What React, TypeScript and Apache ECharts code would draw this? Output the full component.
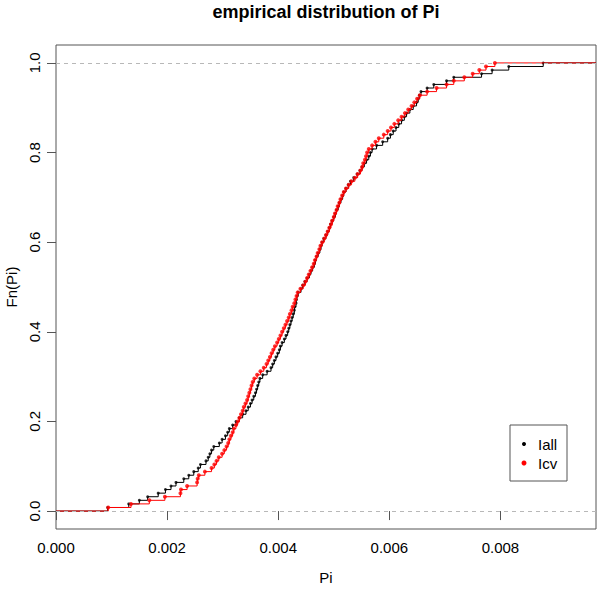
import React, { useEffect, useRef } from "react";
import * as echarts from "echarts";

// sorted sample values (empirical CDF knots)
const iallValues: number[] = [
  0.00093, 0.00131, 0.0015, 0.00165, 0.00184, 0.00197, 0.00207, 0.00216, 0.0023, 0.00239,
  0.00248, 0.00256, 0.0026, 0.0027, 0.00274, 0.00277, 0.0028, 0.00284, 0.00294, 0.00299,
  0.00305, 0.00309, 0.00312, 0.00318, 0.00324, 0.0033, 0.00336, 0.00342, 0.00346, 0.0035,
  0.00353, 0.00356, 0.00359, 0.00361, 0.00363, 0.00365, 0.00367, 0.00372, 0.0038, 0.00387,
  0.0039, 0.00393, 0.00396, 0.00399, 0.00402, 0.00404, 0.00407, 0.00411, 0.00414, 0.00417,
  0.00419, 0.00421, 0.00423, 0.00425, 0.00427, 0.00429, 0.0043, 0.00432, 0.00433, 0.00434,
  0.00436, 0.00441, 0.00444, 0.00448, 0.00452, 0.00456, 0.00459, 0.00462, 0.00465, 0.00467,
  0.00469, 0.00472, 0.00475, 0.00477, 0.00479, 0.00482, 0.00486, 0.00489, 0.00492, 0.00494,
  0.00497, 0.005, 0.00503, 0.00505, 0.00508, 0.0051, 0.00513, 0.00516, 0.00518, 0.00522,
  0.00526, 0.0053, 0.00536, 0.00542, 0.00547, 0.00551, 0.00555, 0.00559, 0.00563, 0.00566,
  0.00569, 0.00577, 0.00588, 0.00597, 0.00602, 0.00607, 0.00612, 0.00617, 0.00622, 0.00627,
  0.00631, 0.00637, 0.00643, 0.00649, 0.00652, 0.00654, 0.00657, 0.00668, 0.0068, 0.00703,
  0.00716, 0.00766, 0.00785, 0.00815, 0.00877,
];

const icvValues: number[] = [
  0.00094, 0.00135, 0.00168, 0.00196, 0.00224, 0.00225, 0.00236, 0.00254, 0.00255, 0.00257,
  0.00268, 0.0028, 0.00285, 0.00289, 0.00293, 0.00299, 0.00303, 0.00307, 0.0031, 0.00312,
  0.00315, 0.00318, 0.0032, 0.00324, 0.00327, 0.0033, 0.00333, 0.00336, 0.00338, 0.00341,
  0.00344, 0.00346, 0.00348, 0.0035, 0.00352, 0.00354, 0.00357, 0.00362, 0.00368, 0.00374,
  0.00379, 0.00382, 0.00385, 0.00388, 0.00391, 0.00394, 0.00398, 0.00401, 0.00404, 0.00407,
  0.0041, 0.00413, 0.00416, 0.00419, 0.00421, 0.00424, 0.00426, 0.00429, 0.00431, 0.00433,
  0.00435, 0.0044, 0.00445, 0.00449, 0.00452, 0.00455, 0.00458, 0.00461, 0.00464, 0.00466,
  0.00469, 0.00471, 0.00474, 0.00476, 0.00479, 0.00483, 0.00486, 0.00489, 0.00492, 0.00495,
  0.00497, 0.005, 0.00502, 0.00505, 0.00507, 0.0051, 0.00512, 0.00515, 0.00518, 0.00522,
  0.00527, 0.00532, 0.00538, 0.00543, 0.00548, 0.00551, 0.00553, 0.00556, 0.00558, 0.0056,
  0.00563, 0.00569, 0.00575, 0.00581, 0.0059, 0.00597, 0.00603, 0.00609, 0.00616, 0.00622,
  0.00628, 0.00634, 0.0064, 0.00645, 0.0065, 0.00655, 0.00668, 0.00685, 0.00703, 0.00716,
  0.00735, 0.0075, 0.00762, 0.00774, 0.0079,
];

const xTicks: number[] = [0, 0.002, 0.004, 0.006, 0.008];
const yTicks: number[] = [0, 0.2, 0.4, 0.6, 0.8, 1.0];
const seriesNames: string[] = ["Iall", "Icv"];

const X_MIN = 0;
const X_MAX = 0.00972;
const Y_MIN = -0.04;
const Y_MAX = 1.04;
const FONT = "'Liberation Sans', Arial, sans-serif";

function ecdfPoints(values: number[]): number[][] {
  const n = values.length;
  return values.map((v, i) => [v, (i + 1) / n]);
}

function ecdfStep(values: number[]): number[][] {
  return [[X_MIN, 0], ...ecdfPoints(values), [X_MAX, 1]];
}

export default function App() {
  const ref = useRef<HTMLDivElement>(null);
  useEffect(() => {
    document.body.style.margin = "0";
    if (!ref.current) return;
    const chart = echarts.init(ref.current, undefined, { renderer: "svg" });
    const axisColor = "#555";
    chart.setOption({
      animation: false,
      backgroundColor: "#fff",
      grid: {
        left: 56,
        right: 4,
        top: 45,
        bottom: 66,
        show: true,
        borderColor: axisColor,
        borderWidth: 1,
        backgroundColor: "transparent",
      },
      xAxis: {
        type: "value",
        min: X_MIN,
        max: X_MAX,
        axisLine: { show: false },
        splitLine: { show: false },
        axisTick: {
          show: true,
          length: 9,
          customValues: xTicks,
          lineStyle: { color: axisColor },
        },
        axisLabel: {
          customValues: xTicks,
          margin: 11,
          fontSize: 15,
          fontFamily: FONT,
          color: "#000",
          formatter: (v: number) => v.toFixed(3),
        },
      },
      yAxis: {
        type: "value",
        min: Y_MIN,
        max: Y_MAX,
        axisLine: { show: false },
        splitLine: { show: false },
        axisTick: {
          show: true,
          length: 9,
          customValues: yTicks,
          lineStyle: { color: axisColor },
        },
        axisLabel: {
          customValues: yTicks,
          rotate: 90,
          margin: 14,
          fontSize: 15,
          fontFamily: FONT,
          color: "#000",
          formatter: (v: number) => v.toFixed(1),
        },
      },
      series: [
        {
          name: seriesNames[0] + " step",
          type: "line",
          step: "end",
          data: ecdfStep(iallValues),
          showSymbol: false,
          lineStyle: { color: "#000", width: 1 },
          z: 2,
          markLine: {
            silent: true,
            symbol: "none",
            label: { show: false },
            lineStyle: { color: "#b8b8b8", type: [4, 4], width: 1 },
            data: [{ yAxis: 0 }, { yAxis: 1 }],
          },
        },
        {
          name: seriesNames[0],
          type: "scatter",
          data: ecdfPoints(iallValues),
          symbol: "circle",
          symbolSize: 3,
          itemStyle: { color: "#000" },
          z: 3,
        },
        {
          name: seriesNames[1] + " step",
          type: "line",
          step: "end",
          data: ecdfStep(icvValues),
          showSymbol: false,
          lineStyle: { color: "#ff0000", width: 1 },
          z: 4,
        },
        {
          name: seriesNames[1],
          type: "scatter",
          data: ecdfPoints(icvValues),
          symbol: "circle",
          symbolSize: 4,
          itemStyle: { color: "#ff0000" },
          z: 5,
        },
      ],
      graphic: [
        {
          type: "text",
          x: 326,
          y: 12,
          style: {
            text: "empirical distribution of Pi",
            fontSize: 18,
            fontWeight: "bold",
            fontFamily: FONT,
            fill: "#000",
            align: "center",
            verticalAlign: "middle",
          },
        },
        {
          type: "text",
          x: 326,
          y: 577,
          style: {
            text: "Pi",
            fontSize: 15,
            fontFamily: FONT,
            fill: "#000",
            align: "center",
            verticalAlign: "middle",
          },
        },
        {
          type: "text",
          x: 11,
          y: 287,
          rotation: Math.PI / 2,
          style: {
            text: "Fn(Pi)",
            fontSize: 15,
            fontFamily: FONT,
            fill: "#000",
            align: "center",
            verticalAlign: "middle",
          },
        },
        {
          type: "rect",
          shape: { x: 510, y: 425, width: 57, height: 56 },
          style: { fill: "#fff", stroke: axisColor, lineWidth: 1 },
          z: 10,
        },
        {
          type: "circle",
          shape: { cx: 524, cy: 444, r: 2 },
          style: { fill: "#000" },
          z: 11,
        },
        {
          type: "circle",
          shape: { cx: 524, cy: 463, r: 2.5 },
          style: { fill: "#ff0000" },
          z: 11,
        },
        {
          type: "text",
          x: 538,
          y: 444,
          style: {
            text: seriesNames[0],
            fontSize: 15,
            fontFamily: FONT,
            fill: "#000",
            verticalAlign: "middle",
          },
          z: 11,
        },
        {
          type: "text",
          x: 538,
          y: 463,
          style: {
            text: seriesNames[1],
            fontSize: 15,
            fontFamily: FONT,
            fill: "#000",
            verticalAlign: "middle",
          },
          z: 11,
        },
      ],
    });
    return () => chart.dispose();
  }, []);
  return <div ref={ref} style={{ width: 600, height: 595 }} />;
}
